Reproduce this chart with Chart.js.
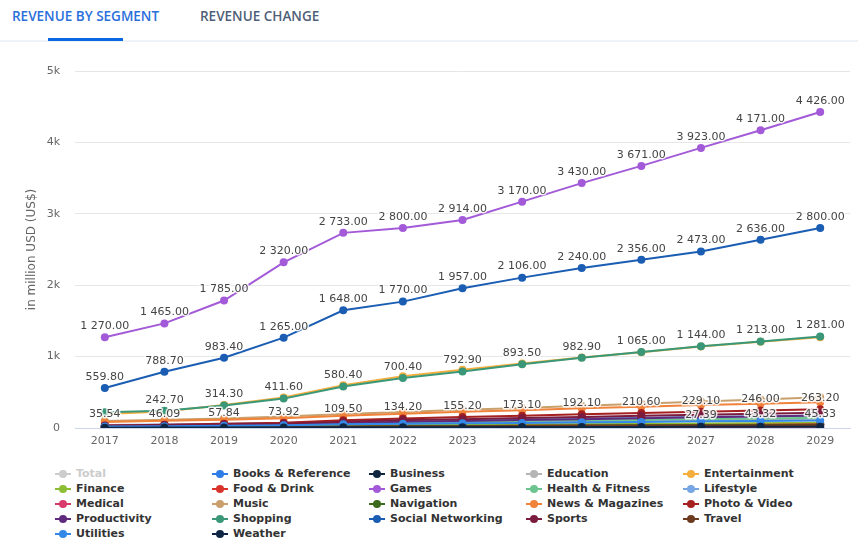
<!DOCTYPE html>
<html>
<head>
<meta charset="utf-8">
<script src="https://cdn.jsdelivr.net/npm/chart.js@4"></script>
<style>
  body { margin: 0; width: 858px; height: 552px; background: #fff; position: relative; overflow: hidden; font-family: "DejaVu Sans", sans-serif; }
  .tabs { position: absolute; left: 0; top: 0; width: 858px; height: 40px; border-bottom: 2px solid #eef3f9; }
  .tab { position: absolute; top: 7px; font-family: "Open Sans", sans-serif; font-weight: 600; font-size: 13.5px; }
  .tab.on { left: 12px; color: #2a6fdb; }
  .tab.off { left: 200px; color: #4f5f78; }
  .bar { position: absolute; left: 48px; top: 38px; width: 75px; height: 3px; background: #0b67e1; }
  #wrap { position: absolute; left: 0; top: 40px; width: 858px; height: 415px; }
  #legend { position: absolute; left: 55px; top: 466px; display: grid; grid-template-columns: repeat(5, 157px); grid-auto-rows: 15px; }
  .item { display: flex; align-items: center; font-size: 11px; font-weight: bold; color: #333; white-space: nowrap; }
  .mk { position: relative; width: 16px; height: 14px; margin-right: 5px; }
  .mk i { position: absolute; left: 0; top: 6px; width: 16px; height: 2px; }
  .mk b { position: absolute; left: 4px; top: 3px; width: 8px; height: 8px; border-radius: 50%; }
</style>
</head>
<body>
<div class="tabs">
  <span class="tab on">REVENUE BY SEGMENT</span>
  <span class="tab off">REVENUE CHANGE</span>
  <div class="bar"></div>
</div>
<div id="wrap"><canvas id="mainChart"></canvas></div>
<div id="legend"></div>
<script>
const years = ['2017','2018','2019','2020','2021','2022','2023','2024','2025','2026','2027','2028','2029'];

// values in million USD
const total         = [2750, 3250, 3950, 5000, 6150, 6650, 7150, 7750, 8350, 8850, 9400, 9950, 10500];
const books         = [16, 19, 22, 27, 33, 37, 41, 44, 49, 52, 57, 60, 65];
const business      = [9, 11, 12, 15, 18, 19, 21, 23, 24, 26, 27.39, 43.32, 45.33];
const education     = [25, 31, 37, 46, 61, 69, 80, 87, 97, 103, 113, 119, 128];
const entertainment = [195, 232, 322, 428, 600, 724, 815, 905, 988, 1062, 1140, 1207, 1272];
const finance       = [12, 16, 19, 25, 32, 38, 44, 48, 54, 57, 63, 67, 73];
const foodDrink     = [6, 7, 9, 12, 18, 23, 26, 31, 34, 38, 43, 46, 51];
const games         = [1270, 1465, 1785, 2320, 2733, 2800, 2914, 3170, 3430, 3671, 3923, 4171, 4426];
const health        = [31, 37, 46, 55, 71, 79, 91, 99, 111, 117, 127, 133, 143];
const lifestyle     = [41, 49, 61, 69, 91, 104, 116, 124, 136, 144, 156, 164, 176];
const medical       = [3, 4, 5, 6, 8, 9, 10, 11, 12, 13, 14, 15, 16];
const music         = [98, 116, 134, 162, 196, 224, 256, 279, 311, 338, 371, 399, 432];
const navigation    = [10, 12, 14, 17, 22, 25, 28, 31, 34, 37, 40, 43, 46];
const news          = [84, 101, 114, 136, 171, 199, 226, 249, 276, 299, 321, 339, 362];
const photoVideo    = [35.54, 46.09, 57.84, 73.92, 109.50, 134.20, 155.20, 173.10, 192.10, 210.60, 229.10, 246.00, 263.20];
const productivity  = [24, 33, 40, 51, 69, 86, 99, 111, 124, 136, 149, 161, 174];
const shopping      = [220, 242.70, 314.30, 411.60, 580.40, 700.40, 792.90, 893.50, 982.90, 1065.00, 1144.00, 1213.00, 1281.00];
const social        = [559.80, 788.70, 983.40, 1265.00, 1648.00, 1770.00, 1957.00, 2106.00, 2240.00, 2356.00, 2473.00, 2636.00, 2800.00];
const sports        = [30, 41, 49, 61, 89, 111, 124, 141, 154, 171, 184, 201, 214];
const travel        = [8, 10, 11, 13, 18, 21, 24, 27, 30, 33, 35, 38, 41];
const utilities     = [21, 25, 31, 38, 51, 58, 66, 71, 80, 85, 93, 97, 105];
const weather       = [5, 6, 7, 8, 10, 11, 12, 13, 14, 15, 16, 17, 18];

// which points carry a value label (null = no label)
const shoppingLabels = shopping.map((v, i) => i === 0 ? null : v);
const businessLabels = business.map((v, i) => i >= 10 ? v : null);

const series = [
  { label: 'Total', data: total, color: '#c8c8c8', hidden: true },
  { label: 'Books & Reference', data: books, color: '#2f7de6' },
  { label: 'Business', data: business, color: '#10263f', labels: businessLabels },
  { label: 'Education', data: education, color: '#b5b5b5' },
  { label: 'Entertainment', data: entertainment, color: '#f5ae3e' },
  { label: 'Finance', data: finance, color: '#8cbd35' },
  { label: 'Food & Drink', data: foodDrink, color: '#d9342c' },
  { label: 'Games', data: games, color: '#a35ad8', labels: games },
  { label: 'Health & Fitness', data: health, color: '#6cc58e' },
  { label: 'Lifestyle', data: lifestyle, color: '#76a6e4' },
  { label: 'Medical', data: medical, color: '#d83a6c' },
  { label: 'Music', data: music, color: '#c9a06c' },
  { label: 'Navigation', data: navigation, color: '#3e6a1c' },
  { label: 'News & Magazines', data: news, color: '#f0823a' },
  { label: 'Photo & Video', data: photoVideo, color: '#a5201f', labels: photoVideo },
  { label: 'Productivity', data: productivity, color: '#5e2b7e' },
  { label: 'Shopping', data: shopping, color: '#3a9878', labels: shoppingLabels },
  { label: 'Social Networking', data: social, color: '#1a5db3', labels: social },
  { label: 'Sports', data: sports, color: '#7b1b3d' },
  { label: 'Travel', data: travel, color: '#6c3a1e' },
  { label: 'Utilities', data: utilities, color: '#3489e8' },
  { label: 'Weather', data: weather, color: '#0f2742' }
];

function fmt(v) {
  const parts = v.toFixed(2).split('.');
  return parts[0].replace(/\B(?=(\d{3})+(?!\d))/g, ' ') + '.' + parts[1];
}

// value labels above points, white halo like the original
const valueLabels = {
  id: 'valueLabels',
  afterDatasetsDraw(chart) {
    const ctx = chart.ctx;
    ctx.save();
    ctx.font = '11px "DejaVu Sans"';
    ctx.textAlign = 'center';
    ctx.textBaseline = 'middle';
    ctx.lineJoin = 'round';
    chart.data.datasets.forEach((ds, di) => {
      if (!ds.valueLabels || !chart.isDatasetVisible(di)) return;
      const meta = chart.getDatasetMeta(di);
      meta.data.forEach((pt, i) => {
        const v = ds.valueLabels[i];
        if (v === null || v === undefined) return;
        const t = fmt(v);
        ctx.strokeStyle = 'rgba(255,255,255,0.85)';
        ctx.lineWidth = 3;
        ctx.strokeText(t, pt.x, pt.y - 11);
        ctx.fillStyle = '#444';
        ctx.fillText(t, pt.x, pt.y - 11);
      });
    });
    ctx.restore();
  }
};

const ctx = document.getElementById('mainChart').getContext('2d');
const mainChart = new Chart(ctx, {
  type: 'line',
  data: {
    labels: years,
    datasets: series.map((s, i) => ({
      label: s.label,
      data: s.data,
      hidden: !!s.hidden,
      borderColor: s.color,
      backgroundColor: s.color,
      borderWidth: 2,
      pointRadius: 4,
      pointHoverRadius: 4,
      pointBorderWidth: 0,
      tension: 0,
      order: -i,
      valueLabels: s.labels || null
    }))
  },
  options: {
    responsive: true,
    maintainAspectRatio: false,
    animation: false,
    layout: { padding: { top: 31, right: 8, left: 0, bottom: 0 } },
    plugins: { legend: { display: false }, tooltip: { enabled: false } },
    scales: {
      x: {
        offset: true,
        grid: { display: false, drawTicks: false },
        border: { color: '#ccd6eb', width: 1 },
        ticks: { color: '#666', font: { family: 'DejaVu Sans', size: 11 }, padding: 7, maxRotation: 0 },
        afterFit: s => { s.height = 27; }
      },
      y: {
        min: 0,
        max: 5000,
        grid: { color: '#e6e6e6', drawTicks: false },
        border: { display: false },
        ticks: {
          stepSize: 1000,
          color: '#666',
          font: { family: 'DejaVu Sans', size: 11 },
          padding: 15,
          callback: v => v === 0 ? '0' : (v / 1000) + 'k'
        },
        title: {
          display: true,
          text: 'in million USD (US$)',
          color: '#666',
          font: { family: 'DejaVu Sans', size: 12 },
          padding: { top: 25, bottom: 0 }
        },
        afterFit: s => { s.width = 75; }
      }
    }
  },
  plugins: [valueLabels]
});

// legend laid out in a 5 column grid
const legend = document.getElementById('legend');
series.forEach(s => {
  const el = document.createElement('div');
  el.className = 'item';
  const c = s.hidden ? '#cccccc' : s.color;
  el.innerHTML = '<span class="mk"><i style="background:' + c + '"></i><b style="background:' + c + '"></b></span>' +
    '<span style="color:' + (s.hidden ? '#cccccc' : '#333') + '">' + s.label + '</span>';
  legend.appendChild(el);
});
</script>
</body>
</html>
